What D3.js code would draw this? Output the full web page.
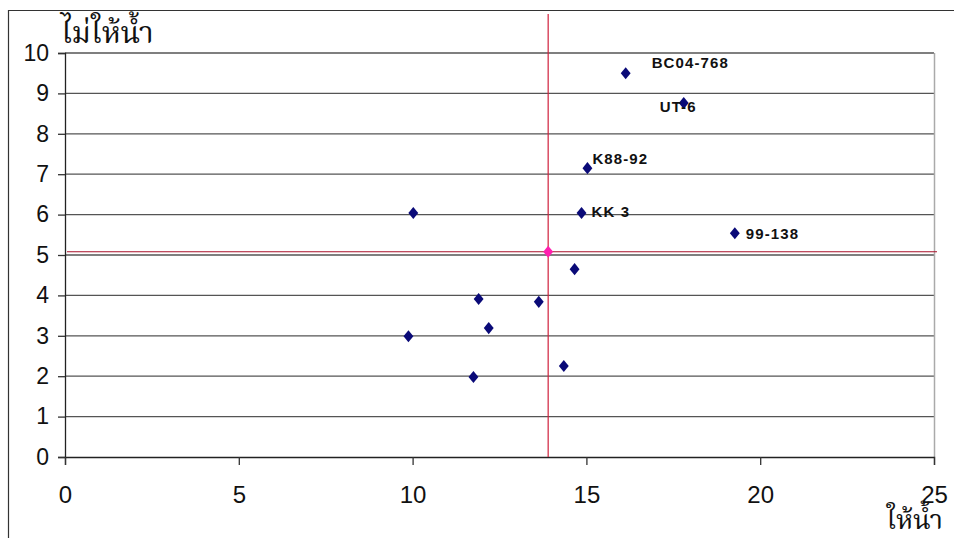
<!DOCTYPE html>
<html>
<head>
<meta charset="utf-8">
<script src="https://cdn.jsdelivr.net/npm/d3@7"></script>
<style>
  html, body { margin: 0; padding: 0; background: #fff; }
  svg { display: block; }
</style>
</head>
<body>
<svg id="chart" width="954" height="538"></svg>
<script>
// Yield with irrigation (x) vs. without irrigation (y) per variety
const names = ["BC04-768", "UT-6", "K88-92", "KK 3", "99-138", "", "", "", "", "", "", "", ""];
const irrigated = [16.13, 17.8, 15.03, 14.86, 19.27, 10.02, 14.66, 11.9, 13.63, 12.19, 9.88, 14.35, 11.75];
const rainfed   = [9.5, 8.76, 7.15, 6.04, 5.54, 6.04, 4.65, 3.91, 3.84, 3.19, 2.99, 2.25, 1.98];

// Overall means (shown as the pink marker and the red cross lines)
const meanIrrigated = 13.9;
const meanRainfed = 5.08;

const xTicks = [0, 5, 10, 15, 20, 25];
const yTicks = [0, 1, 2, 3, 4, 5, 6, 7, 8, 9, 10];
const xTitle = "ให้น้ำ";
const yTitle = "ไม่ให้น้ำ";

// label placement relative to each named point
const labelOffset = {
  "BC04-768": [26, -5],
  "UT-6": [-24, 9],
  "K88-92": [5, -4],
  "KK 3": [10, 4],
  "99-138": [11, 6]
};

const svg = d3.select("#chart");
const plot = { left: 65, right: 934, top: 53, bottom: 457 };
const tickFont = "'Liberation Sans Narrow', 'Arial Narrow', 'Liberation Sans', Arial, sans-serif";
const thaiFont = "'Noto Serif Thai', 'Noto Sans Thai', 'DejaVu Serif', serif";

const x = d3.scaleLinear().domain([0, 25]).range([plot.left, plot.right]);
const y = d3.scaleLinear().domain([0, 10]).range([plot.bottom, plot.top]);

// outer frame
svg.append("path")
  .attr("d", `M8.5,538 V10.5 H954`)
  .attr("fill", "none").attr("stroke", "#333").attr("stroke-width", 1.2);

// horizontal gridlines
svg.append("g").selectAll("line").data(yTicks.filter(d => d > 0)).join("line")
  .attr("x1", plot.left).attr("x2", plot.right)
  .attr("y1", d => y(d)).attr("y2", d => y(d))
  .attr("stroke", "#555").attr("stroke-width", 1.3);

// right border of plot area
svg.append("line")
  .attr("x1", plot.right + 0.5).attr("x2", plot.right + 0.5)
  .attr("y1", plot.top).attr("y2", plot.bottom)
  .attr("stroke", "#aaa").attr("stroke-width", 1.5);

// y axis
const yAxis = svg.append("g")
  .attr("transform", `translate(${plot.left},0)`)
  .call(d3.axisLeft(y).tickValues(yTicks).tickSize(7).tickPadding(9).tickFormat(d3.format("d")));
yAxis.select(".domain").attr("stroke", "#222").attr("stroke-width", 1.3);
yAxis.selectAll(".tick line").attr("stroke", "#333").attr("stroke-width", 1.3);
yAxis.selectAll(".tick text")
  .attr("font-family", tickFont)
  .attr("font-size", 23).attr("fill", "#111");

// x axis
const xAxis = svg.append("g")
  .attr("transform", `translate(0,${plot.bottom})`)
  .call(d3.axisBottom(x).tickValues(xTicks).tickSize(8).tickPadding(21).tickFormat(d3.format("d")));
xAxis.select(".domain").attr("stroke", "#222").attr("stroke-width", 1.3);
xAxis.selectAll(".tick line").attr("stroke", "#333").attr("stroke-width", 1.3);
xAxis.selectAll(".tick text")
  .attr("font-family", tickFont)
  .attr("font-size", 24).attr("fill", "#111");

// mean cross lines
svg.append("line")
  .attr("x1", x(meanIrrigated)).attr("x2", x(meanIrrigated))
  .attr("y1", 14).attr("y2", plot.bottom)
  .attr("stroke", "#d0203c").attr("stroke-width", 1.2);
svg.append("line")
  .attr("x1", plot.left + 2).attr("x2", plot.right + 3)
  .attr("y1", y(meanRainfed)).attr("y2", y(meanRainfed))
  .attr("stroke", "#a8102a").attr("stroke-width", 1.2);

// diamond marker, slightly wider than d3's default diamond
const diamond = {
  draw(ctx, size) {
    const h = Math.sqrt(size) * 0.72, w = h * 0.82;
    ctx.moveTo(0, -h); ctx.lineTo(w, 0); ctx.lineTo(0, h); ctx.lineTo(-w, 0); ctx.closePath();
  }
};
const sym = d3.symbol().type(diamond).size(70);

const pts = names.map((n, i) => ({ name: n, xv: irrigated[i], yv: rainfed[i] }));

svg.append("g").selectAll("path").data(pts).join("path")
  .attr("d", sym)
  .attr("transform", d => `translate(${x(d.xv)},${y(d.yv)})`)
  .attr("fill", "#0a0a78");

svg.append("path")
  .attr("d", sym)
  .attr("transform", `translate(${x(meanIrrigated)},${y(meanRainfed)})`)
  .attr("fill", "#ff1fae");

// point labels
svg.append("g").selectAll("text").data(pts.filter(d => d.name)).join("text")
  .attr("x", d => x(d.xv) + labelOffset[d.name][0])
  .attr("y", d => y(d.yv) + labelOffset[d.name][1])
  .attr("font-family", "'Liberation Sans', Arial, sans-serif")
  .attr("font-weight", "bold").attr("font-size", 15)
  .attr("letter-spacing", 1.1)
  .attr("fill", "#111")
  .text(d => d.name);

// axis titles
svg.append("text")
  .attr("x", 61).attr("y", 43)
  .attr("font-family", thaiFont)
  .attr("font-size", 30).attr("fill", "#111")
  .text(yTitle);
svg.append("text")
  .attr("x", 943).attr("y", 529)
  .attr("text-anchor", "end")
  .attr("font-family", thaiFont)
  .attr("font-size", 27).attr("fill", "#111")
  .text(xTitle);
</script>
</body>
</html>
